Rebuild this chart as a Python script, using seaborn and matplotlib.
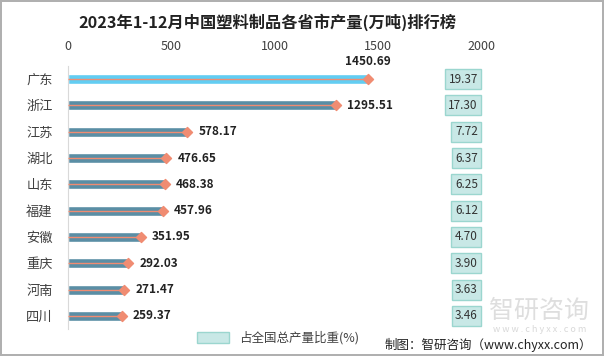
import numpy as np
import pandas as pd
import matplotlib
matplotlib.use("Agg")
import matplotlib.pyplot as plt
from matplotlib.patches import Patch
import seaborn as sns

# 2023年1-12月中国塑料制品各省市产量排行

provinces = ["广东", "浙江", "江苏", "湖北", "山东", "福建", "安徽", "重庆", "河南", "四川"]
output = [1450.69, 1295.51, 578.17, 476.65, 468.38, 457.96, 351.95, 292.03, 271.47, 259.37]
share = [19.37, 17.30, 7.72, 6.37, 6.25, 6.12, 4.70, 3.90, 3.63, 3.46]
x_ticks = [0, 500, 1000, 1500, 2000]

df = pd.DataFrame({"省市": provinces, "产量": output, "比重": share})

sns.set_style("white")
plt.rcParams["font.family"] = ["Noto Sans CJK SC", "DejaVu Sans"]

fig = plt.figure(figsize=(6.04, 3.56), dpi=100)
fig.patch.set_edgecolor("#b0b0b0")
fig.patch.set_linewidth(1.5)
ax = fig.add_axes([68 / 604, 1 - 329 / 356, 413 / 604, 263 / 356])

bar_colors = ["#62CDF2"] + ["#5A8EA5"] * (len(provinces) - 1)
sns.barplot(data=df, x="产量", y="省市", hue="省市", palette=bar_colors,
            legend=False, width=0.38, ax=ax, saturation=1)

ypos = np.arange(len(provinces))
ax.hlines(ypos, 0, df["产量"], color="#F08C72", linewidth=1.0, zorder=3)
ax.scatter(df["产量"], ypos, marker="D", s=26, color="#F08C72", zorder=4)

for i, (v, p) in enumerate(zip(output, share)):
    if i == 0:
        ax.text(v, i - 0.42, f"{v:.2f}", ha="center", va="bottom",
                fontsize=8.5, fontweight="bold", color="#222222")
    else:
        ax.text(v + 55, i, f"{v:.2f}", ha="left", va="center",
                fontsize=8.5, fontweight="bold", color="#222222")
    ax.text(1985, i, f"{p:.2f}", ha="right", va="center", fontsize=8.5,
            color="#333333",
            bbox=dict(boxstyle="square,pad=0.3", facecolor="#C8E8E6",
                      edgecolor="#9BD6CF", linewidth=1))

ax.set_xlim(0, 2000)
ax.set_ylim(len(provinces) - 0.5, -0.5)
ax.set_xticks(x_ticks)
ax.xaxis.tick_top()
ax.tick_params(axis="x", length=0, pad=9, labelsize=9, labelcolor="#404040")
ax.tick_params(axis="y", which="major", length=0, pad=11, labelsize=9.5,
               labelcolor="#404040")
ax.set_yticks(np.arange(-0.5, len(provinces)), minor=True)
ax.tick_params(axis="y", which="minor", length=4, color="#d9d9d9", width=1)
ax.set_xlabel("")
ax.set_ylabel("")
for s in ["top", "right", "bottom"]:
    ax.spines[s].set_visible(False)
ax.spines["left"].set_color("#d9d9d9")
ax.grid(False)

fig.text(267 / 604, 1 - 22 / 356, "2023年1-12月中国塑料制品各省市产量(万吨)排行榜",
         ha="center", va="center", fontsize=11.7, fontweight="bold", color="#222222")

fig.legend(handles=[Patch(facecolor="#C8E8E6", edgecolor="#9BD6CF", label="占全国总产量比重(%)")],
           loc="center", bbox_to_anchor=(0.46, 0.05), frameon=False, fontsize=9,
           handlelength=2.6, handleheight=0.9, labelcolor="#404040")

# 水印
fig.text(0.893, 1 - 311 / 356, "智研咨询", ha="center", va="center", fontsize=18,
         color="#c8c8c8", alpha=0.6, zorder=0)
fig.text(0.893, 1 - 330 / 356, "w w w . c h y x x . c o m", ha="center", va="center",
         fontsize=6.5, color="#c8c8c8", alpha=0.7, zorder=0)

fig.text(0.98, 1 - 345 / 356, "制图：智研咨询（www.chyxx.com）", ha="right", va="center",
         fontsize=9, color="#222222")

fig.savefig("out.png", dpi=100)
